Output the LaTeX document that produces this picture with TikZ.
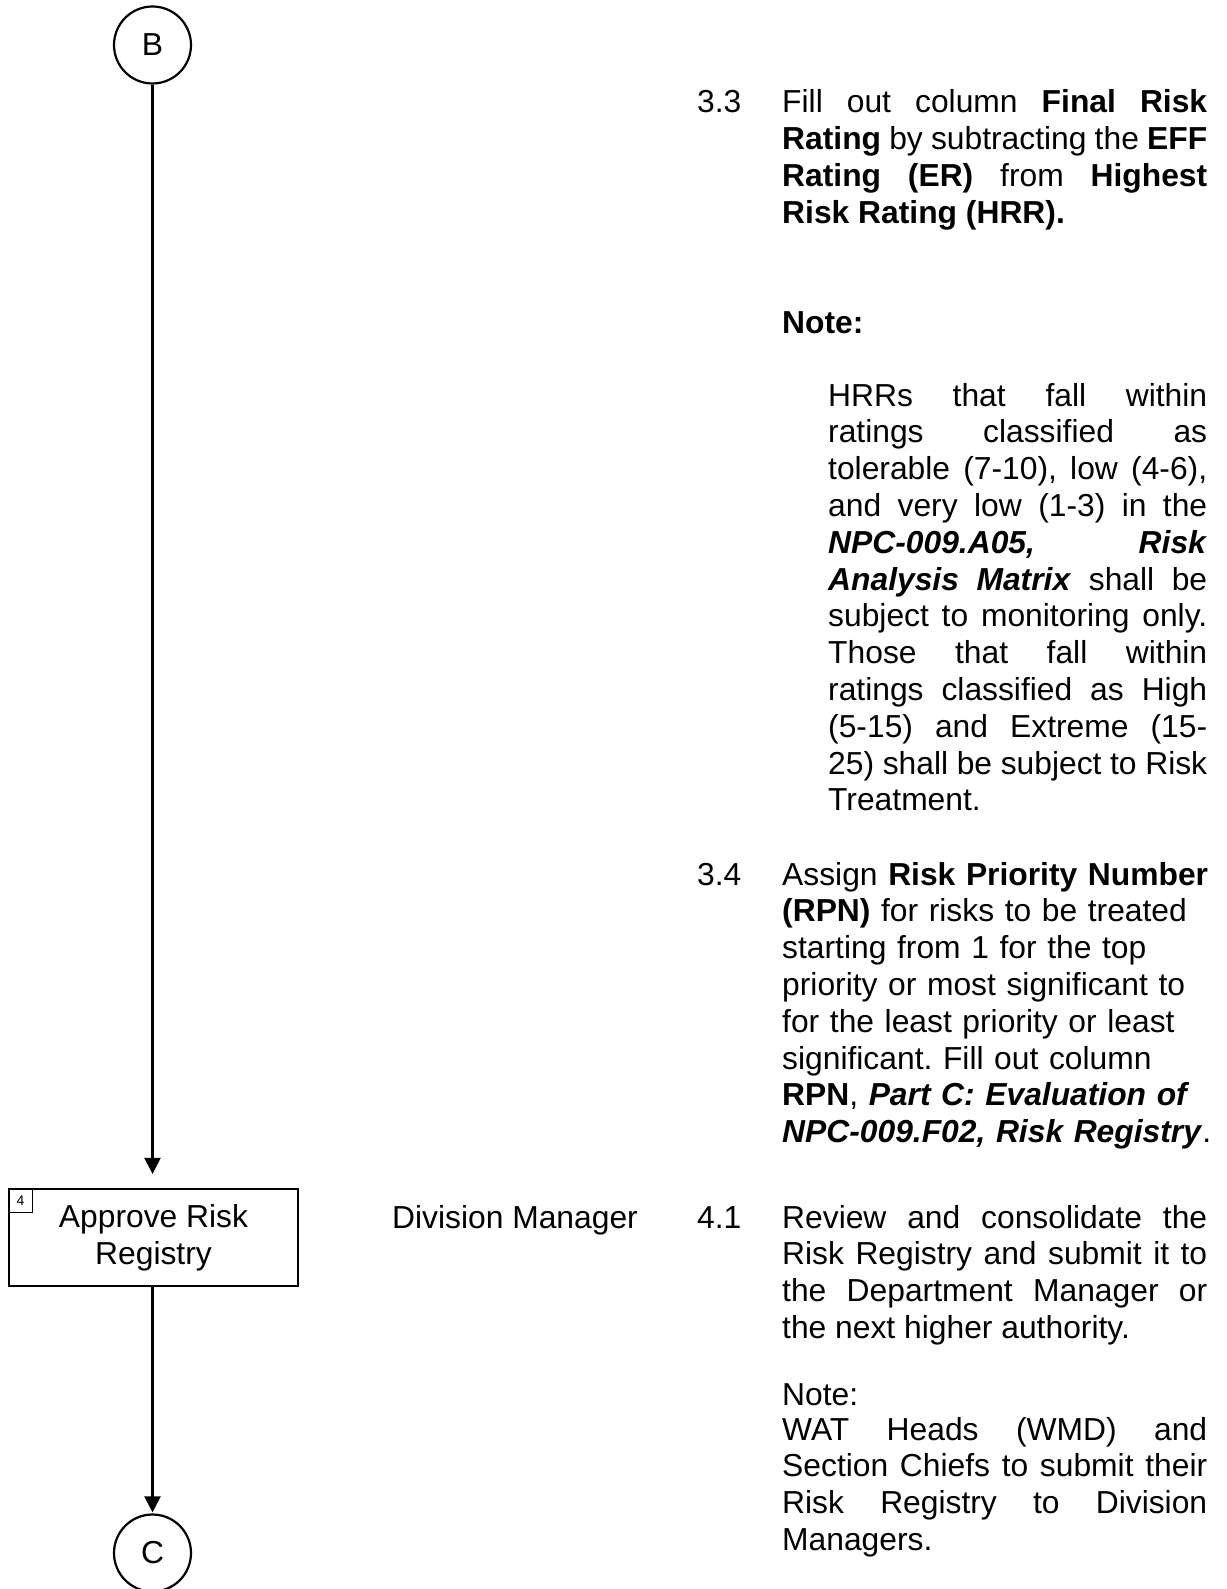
\documentclass[tikz,border=0pt]{standalone}
\usepackage{fontspec}
\setmainfont{Liberation Sans}
\usetikzlibrary{arrows.meta}
\hyphenpenalty=10000
\exhyphenpenalty=10000
\tolerance=10000
\frenchspacing
\begin{document}
\begin{tikzpicture}[x=1pt,y=-1pt,
  txt/.style={inner sep=0pt, anchor=base west, font={\frenchspacing\fontsize{31.8}{36.8}\selectfont}},
  para/.style={txt, text width=#1, align=justify},
  ragged/.style={txt, text width=#1, align=left},
  conn/.style={draw, circle, line width=2.2pt, minimum size=77pt, inner sep=0pt, font={\fontsize{31.8}{36.8}\selectfont}},
  actbox/.style={draw, rectangle, line width=2.2pt, minimum width=289pt, minimum height=97pt, inner sep=0pt, align=center, font={\fontsize{31.8}{37}\selectfont}},
  numbox/.style={draw, rectangle, line width=1.3pt, minimum size=24pt, inner sep=0pt, font={\fontsize{14}{16}\selectfont}},
  flow/.style={line width=2.2pt, -{Triangle[length=16pt,width=16pt]}}]
\useasboundingbox (0,0) rectangle (1226,1589);

% flowchart column
\node[conn] (B) at (152.5,45) {B};
\node[actbox] (approve) at (153.5,1237.5) {Approve Risk\\Registry};
\node[numbox, anchor=north west] (stepno) at (approve.north west) {4};
\node[conn] (C) at (152.5,1553) {C};
\draw[flow, shorten >=14pt] (B.south) -- (B.south |- approve.north);
\draw[flow, shorten >=1pt] (approve.south -| C.north) -- (C.north);

% step 3.3
\node[txt] (n33) at (697,113) {3.3};
\node[para=425pt] (t33) at (782,113) {Fill out column \textbf{Final Risk}\linebreak
\textbf{Rating} by subtracting the \textbf{EFF}\linebreak
\textbf{Rating (ER)} from \textbf{Highest}\linebreak
\textbf{Risk Rating (HRR).}};
\node[txt] (note33) at (782,333) {\textbf{Note:}};
\node[para=379pt] (hrr) at (828,406) {HRRs that fall within\linebreak
ratings classified as\linebreak
tolerable (7-10), low (4-6),\linebreak
and very low (1-3) in the\linebreak
\textbf{\textit{NPC-009.A05,}} \textbf{\textit{Risk}}\linebreak
\textbf{\textit{Analysis Matrix}} shall be\linebreak
subject to monitoring only.\linebreak
Those that fall within\linebreak
ratings classified as High\linebreak
(5-15) and Extreme (15-\linebreak
25) shall be subject to Risk\linebreak
Treatment.};

% step 3.4
\node[txt] (n34) at (697,885) {3.4};
\node[ragged=440pt] (t34) at (782,885) {Assign \textbf{Risk Priority Number}\\
\textbf{(RPN)} for risks to be treated\\
starting from 1 for the top\\
priority or most significant to\\
for the least priority or least\\
significant. Fill out column\\
\textbf{RPN}, \textbf{\textit{Part C: Evaluation of}}\\
\textbf{\textit{NPC-009.F02, Risk Registry}}.};

% step 4.1
\node[txt] (resp) at (392,1228) {Division Manager};
\node[txt] (n41) at (697,1228) {4.1};
\node[para=425pt] (t41) at (782,1228) {Review and consolidate the\linebreak
Risk Registry and submit it to\linebreak
the Department Manager or\linebreak
the next higher authority.};
\node[txt] (note41) at (782,1405) {Note:};
\node[para=425pt] (wat) at (782,1440) {WAT Heads (WMD) and\linebreak
Section Chiefs to submit their\linebreak
Risk Registry to Division\linebreak
Managers.};
\end{tikzpicture}
\end{document}
